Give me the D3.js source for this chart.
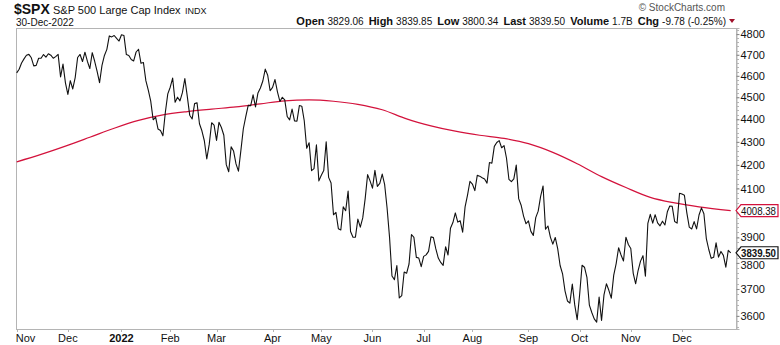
<!DOCTYPE html>
<html>
<head>
<meta charset="utf-8">
<script src="https://cdn.jsdelivr.net/npm/d3@7"></script>
<style>
  html, body { margin: 0; padding: 0; background: #fff; }
  svg { display: block; font-family: "Liberation Sans", Arial, sans-serif; }
</style>
</head>
<body>
<svg id="chart" width="780" height="345"></svg>
<script>
// Daily closes of the S&P 500, one list per month (Nov 2021 .. Dec 2022)
const closesNov21 = [4613.67,4630.65,4660.57,4680.06,4697.53,4701.70,4685.25,4646.71,4649.27,4682.85,4682.80,4700.90,4688.67,4704.54,4697.96,4682.94,4690.70,4701.46,4594.62,4655.27,4567.00];
const closesDec21 = [4513.04,4577.10,4538.43,4591.67,4686.75,4701.21,4667.45,4712.02,4668.97,4634.09,4709.85,4668.67,4620.64,4568.02,4649.23,4696.56,4725.79,4791.19,4786.35,4793.06,4778.73,4766.18];
const closesJan22 = [4796.56,4793.54,4700.58,4696.05,4677.03,4670.29,4713.07,4726.35,4659.03,4662.85,4577.11,4532.76,4482.73,4397.94,4410.13,4356.45,4349.93,4326.51,4431.85,4515.55];
const closesFeb22 = [4546.54,4589.38,4477.44,4500.53,4483.87,4521.54,4587.18,4504.08,4418.64,4401.67,4471.07,4475.01,4380.26,4348.87,4304.76,4225.50,4288.70,4384.65,4373.94];
const closesMar22 = [4306.26,4386.54,4363.49,4328.87,4201.09,4170.70,4277.88,4259.52,4204.31,4173.11,4262.45,4357.86,4411.67,4463.12,4461.18,4511.61,4456.24,4520.16,4543.06,4575.52,4631.60,4602.45,4530.41];
const closesApr22 = [4545.86,4582.64,4525.12,4481.15,4500.21,4488.28,4412.53,4397.45,4446.59,4392.59,4391.69,4462.21,4459.45,4393.66,4271.78,4296.12,4175.20,4183.96,4287.50,4131.93];
const closesMay22 = [4155.38,4175.48,4300.17,4146.87,4123.34,3991.24,4001.05,3935.18,3930.08,4023.89,4008.01,4088.85,3923.68,3900.79,3901.36,3973.75,3941.48,3978.73,4057.84,4158.24,4132.15];
const closesJun22 = [4101.23,4176.82,4108.54,4121.43,4160.68,4115.77,4017.82,3900.86,3749.63,3735.48,3789.99,3666.77,3674.84,3764.79,3759.89,3795.73,3911.74,3900.11,3821.55,3818.83,3785.38];
const closesJul22 = [3825.33,3831.39,3845.08,3902.62,3899.38,3854.43,3818.80,3801.78,3790.38,3863.16,3830.85,3936.69,3959.90,3998.95,3961.63,3966.84,3921.05,4023.61,4072.43,4130.29];
const closesAug22 = [4118.63,4091.19,4155.17,4151.94,4145.19,4140.06,4122.47,4210.24,4207.27,4280.15,4297.14,4305.20,4274.04,4283.74,4228.48,4137.99,4128.73,4140.77,4199.12,4057.66,4030.61,3986.16,3955.00];
const closesSep22 = [3966.85,3924.26,3908.19,3979.87,4006.18,4067.36,4110.41,3932.69,3946.01,3901.35,3873.33,3899.89,3855.93,3789.93,3757.99,3693.23,3655.04,3647.29,3719.04,3640.47,3585.62];
const closesOct22 = [3678.43,3790.93,3783.28,3744.52,3639.66,3612.39,3588.84,3577.03,3669.91,3583.07,3677.95,3719.98,3695.16,3665.78,3752.75,3797.34,3859.11,3830.60,3807.30,3901.06,3871.98];
const closesNov22 = [3856.10,3759.69,3719.89,3770.55,3806.80,3828.11,3748.57,3956.37,3992.93,3957.25,3991.73,3958.79,3946.56,3965.34,3949.94,4003.58,4027.26,4026.12,3963.94,3957.63,4080.11];
const closesDec22 = [4076.57,4071.70,3998.84,3941.26,3933.92,3963.51,3934.38,3990.56,4019.65,3995.32,3895.75,3852.36,3817.66,3821.62,3878.44,3822.39,3844.82,3829.25,3783.22,3849.28,3839.50];

// Market holidays inside the period
const holidays = ["2021-11-25","2021-12-24","2022-01-17","2022-02-21","2022-04-15","2022-05-30","2022-06-20","2022-07-04","2022-09-05","2022-11-24","2022-12-26"];

// 200-day moving average, sampled by trading-day number
const maDay   = [0,10,20,30,40,50,60,70,80,90,100,110,120,130,140,150,160,170,180,190,200,210,220,230,240,250,260,270,280,293];
const maValue = [4213,4245,4281,4320,4360,4395,4420,4435,4446,4456,4470,4484,4488,4482,4468,4443,4402,4371,4347,4329,4315,4292,4254,4205,4150,4104,4063,4040,4024,4008.38];

const yTicks = [3600,3700,3800,3900,4000,4100,4200,4300,4400,4500,4600,4700,4800];
const monthNames = ["Jan","Feb","Mar","Apr","May","Jun","Jul","Aug","Sep","Oct","Nov","Dec"];

const header = { symbol: "$SPX", name: "S&P 500 Large Cap Index", exch: "INDX", date: "30-Dec-2022" };
const quote = [["Open","3829.06"],["High","3839.85"],["Low","3800.34"],["Last","3839.50"],["Volume","1.7B"],["Chg","-9.78 (-0.25%)"]];

// ---- build trading-day calendar ----
const closes = [].concat(closesNov21, closesDec21, closesJan22, closesFeb22, closesMar22, closesApr22,
  closesMay22, closesJun22, closesJul22, closesAug22, closesSep22, closesOct22, closesNov22, closesDec22);
const fmt = d3.utcFormat("%Y-%m-%d");
const hol = new Set(holidays);
const days = d3.utcDays(new Date(Date.UTC(2021,10,1)), new Date(Date.UTC(2022,11,31)))
  .filter(d => d.getUTCDay() !== 0 && d.getUTCDay() !== 6 && !hol.has(fmt(d)));
const data = closes.map((c, i) => ({ i, date: days[i], close: c }));

// ---- layout ----
const svg = d3.select("#chart");
const L = 16, R = 737, T = 28, B = 329;

const x = d3.scaleLinear().domain([0, data.length - 1]).range([16.7, 730.7]);
const y = d3.scaleLog().domain([3552, 4830]).range([B, T]);

const lastClose = closes[closes.length - 1];
const lastMA = maValue[maValue.length - 1];
const tagValues = [lastMA, lastClose];

// frame
svg.append("rect").attr("x", L + 0.5).attr("y", T + 0.5).attr("width", R - L - 1).attr("height", B - T)
  .attr("fill", "none").attr("stroke", "#b4b4b4").attr("stroke-width", 1);

// right axis: minor ticks every 20, labels every 100 (labels under a value tag are left out)
const minor = d3.range(3560, 4830, 20);
svg.append("g").selectAll("line").data(minor).join("line")
  .attr("x1", R).attr("x2", R + 2)
  .attr("y1", d => Math.round(y(d)) + 0.5).attr("y2", d => Math.round(y(d)) + 0.5)
  .attr("stroke", "#b4b4b4");
const tagGap = d => d3.min(tagValues, v => Math.abs(y(v) - y(d)));
const yAxis = d3.axisRight(y).tickValues(yTicks).tickSize(3).tickPadding(1)
  .tickFormat(d => tagGap(d) < 8 ? "" : d3.format("d")(d));
const gy = svg.append("g").attr("transform", `translate(${R - 0.5},0)`).call(yAxis);
gy.select(".domain").attr("stroke", "#b4b4b4");
gy.selectAll(".tick line").attr("stroke", "#888");
gy.selectAll(".tick text").attr("fill", "#111").style("font-size", "11px")
  .style("font-family", "'Liberation Sans', Arial, sans-serif")
  .attr("dy", d => tagGap(d) < 13 ? "0.55em" : "0.32em");

// bottom axis: first trading day of each month
const monthStarts = data.filter((d, k) => k === 0 || d.date.getUTCMonth() !== data[k - 1].date.getUTCMonth());
const gx = svg.append("g");
gx.selectAll("line").data(monthStarts).join("line")
  .attr("x1", d => Math.round(x(d.i)) + 0.5).attr("x2", d => Math.round(x(d.i)) + 0.5)
  .attr("y1", B).attr("y2", B + 3).attr("stroke", "#b4b4b4");
gx.selectAll("text").data(monthStarts).join("text")
  .attr("x", d => d.i === 0 ? x(d.i) - 1 : x(d.i))
  .attr("y", 342)
  .attr("text-anchor", d => d.i === 0 ? "start" : "middle")
  .attr("font-size", 11)
  .attr("font-weight", d => d.date.getUTCMonth() === 0 ? "bold" : "normal")
  .attr("fill", "#111")
  .text(d => d.date.getUTCMonth() === 0 ? d.date.getUTCFullYear() : monthNames[d.date.getUTCMonth()]);

// moving average
const maLine = d3.line().x((d, k) => x(maDay[k])).y(d => y(d)).curve(d3.curveMonotoneX);
svg.append("path").attr("d", maLine(maValue)).attr("fill", "none")
  .attr("stroke", "#d3123c").attr("stroke-width", 1.2);

// price line
const priceLine = d3.line().x(d => x(d.i)).y(d => y(d.close));
svg.append("path").attr("d", priceLine(data)).attr("fill", "none")
  .attr("stroke", "#111").attr("stroke-width", 1.1).attr("stroke-linejoin", "round");

// value tags on the right axis
function tag(value, color, bold) {
  const cy = y(value), h = 12, x0 = R - 1, w = 42;
  const g = svg.append("g");
  g.append("path")
    .attr("d", `M${x0},${cy} L${x0 + 5},${cy - h / 2} L${x0 + w},${cy - h / 2} L${x0 + w},${cy + h / 2} L${x0 + 5},${cy + h / 2} Z`)
    .attr("fill", "#fff").attr("stroke", color).attr("stroke-width", 1.2);
  g.append("text").attr("x", x0 + 5).attr("y", cy + 4).attr("font-size", 11)
    .attr("textLength", 35).attr("lengthAdjust", "spacingAndGlyphs")
    .attr("font-weight", bold ? "bold" : "normal").attr("fill", "#111")
    .text(d3.format(".2f")(value));
}
tag(lastMA, "#d3123c", false);
tag(lastClose, "#111", true);

// header
svg.append("text").attr("x", 14).attr("y", 14).attr("fill", "#111")
  .attr("font-size", 14).attr("font-weight", "bold").text(header.symbol);
svg.append("text").attr("x", 53).attr("y", 14).attr("fill", "#111")
  .attr("font-size", 11).text(header.name);
svg.append("text").attr("x", 185).attr("y", 14).attr("fill", "#111")
  .attr("font-size", 9).text(header.exch);
svg.append("text").attr("x", 16).attr("y", 26).attr("font-size", 10).attr("fill", "#111").text(header.date);

svg.append("text").attr("x", 725).attr("y", 11).attr("text-anchor", "end")
  .attr("font-size", 10).attr("fill", "#555").text("\u00A9 StockCharts.com");

const q = svg.append("text").attr("x", 726).attr("y", 25).attr("text-anchor", "end").attr("fill", "#111");
quote.forEach(([k, v], n) => {
  q.append("tspan").attr("dx", n ? 5 : 0).attr("font-size", 11).attr("font-weight", "bold").text(k);
  q.append("tspan").attr("dx", 3).attr("font-size", 10).text(v);
});
svg.append("path").attr("d", "M729,19 L735,19 L732,23 Z").attr("fill", "#a0102a");
</script>
</body>
</html>
